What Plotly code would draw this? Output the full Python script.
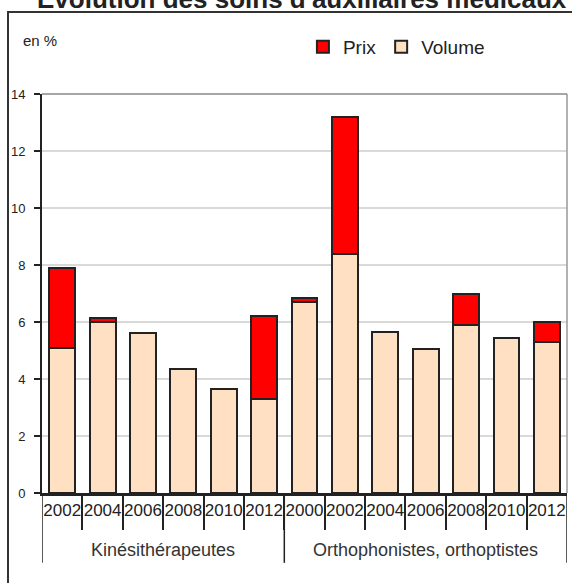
import plotly.graph_objects as go

group_names = ["Kinésithérapeutes", "Orthophonistes, orthoptistes"]
group_sizes = [6, 7]
years = ["2002", "2004", "2006", "2008", "2010", "2012",
         "2000", "2002", "2004", "2006", "2008", "2010", "2012"]
volume = [5.1, 6.0, 5.6, 4.35, 3.65, 3.3, 6.7, 8.4, 5.65, 5.05, 5.9, 5.45, 5.3]
prix = [2.8, 0.15, 0.0, 0.0, 0.0, 2.9, 0.15, 4.8, 0.0, 0.0, 1.1, 0.0, 0.7]
yticks = [0, 2, 4, 6, 8, 10, 12, 14]

xpos = list(range(len(years)))

fig = go.Figure()
fig.add_trace(go.Bar(x=xpos, y=volume, name="Volume",
                     marker=dict(color="#FFE0C2", line=dict(color="#222222", width=2)),
                     width=0.64))
fig.add_trace(go.Bar(x=xpos, y=prix, name="Prix",
                     marker=dict(color="#FF0000", line=dict(color="#222222", width=2)),
                     width=0.64))

fig.update_layout(
    width=572, height=583,
    barmode="stack",
    plot_bgcolor="white", paper_bgcolor="white",
    margin=dict(l=42, r=5, t=94, b=90, autoexpand=False),
    font=dict(family="Arial, Liberation Sans", size=13, color="#222"),
    legend=dict(orientation="h", traceorder="reversed", x=0.497, y=1.118,
                xanchor="left", yanchor="middle", font=dict(size=19, color="#222"),
                bgcolor="rgba(0,0,0,0)"),
    showlegend=True,
)
fig.update_yaxes(range=[0, 14], tickvals=yticks, showgrid=True, gridcolor="#D9D9D9",
                 gridwidth=1.5, showline=True, linecolor="#222", linewidth=2,
                 ticks="outside", ticklen=6, tickcolor="#222", tickwidth=1.5,
                 ticklabelstandoff=6,
                 tickfont=dict(size=13), zeroline=False, fixedrange=True)
fig.update_xaxes(range=[-0.5, len(years) - 0.5], tickvals=xpos, ticktext=years,
                 showline=True, linecolor="#222", linewidth=2.5,
                 ticks="", tickfont=dict(size=17), showgrid=False, zeroline=False,
                 minor=dict(tickvals=[i + 0.5 for i in xpos[:-1]], ticks="outside",
                            ticklen=34, tickcolor="#222", tickwidth=1.5, showgrid=False))

# group labels and dividers
start = 0
bounds = [-0.5]
for name, n in zip(group_names, group_sizes):
    center = start + (n - 1) / 2
    fig.add_annotation(text=name, x=center, xref="x", y=-0.143, yref="paper",
                       showarrow=False, yanchor="middle", font=dict(size=18, color="#333"))
    start += n
    bounds.append(start - 0.5)
for b in bounds:
    fig.add_shape(type="line", xref="x", yref="paper", x0=b, x1=b, y0=0, y1=-0.175,
                  line=dict(color="#222", width=1.5))

fig.add_annotation(text="en %", xref="paper", yref="paper", x=-0.004, y=1.135,
                   showarrow=False, xanchor="center", yanchor="middle", font=dict(size=15))
fig.add_annotation(text="<b>Evolution des soins d'auxiliaires médicaux</b>", xref="paper",
                   yref="paper", x=(302 - 42) / 525, y=(493 - 16) / 399, yanchor="bottom",
                   xanchor="center", showarrow=False, font=dict(size=26, color="#222"))
fig.add_shape(type="rect", xref="paper", yref="paper",
              x0=(8 - 42) / 525, x1=1.05, y0=-0.3, y1=(493 - 12) / 399,
              line=dict(color="#333", width=2), fillcolor="rgba(0,0,0,0)", layer="below")
fig.add_shape(type="line", xref="paper", yref="paper", x0=1.0, x1=1.0, y0=0, y1=1,
              line=dict(color="#999", width=1.5))
fig.add_shape(type="line", xref="paper", yref="paper", x0=0, x1=1.0, y0=1, y1=1,
              line=dict(color="#888", width=1.5))

fig.write_html("out.html", config={"displayModeBar": False},
               post_script="document.body.style.margin='0';")
